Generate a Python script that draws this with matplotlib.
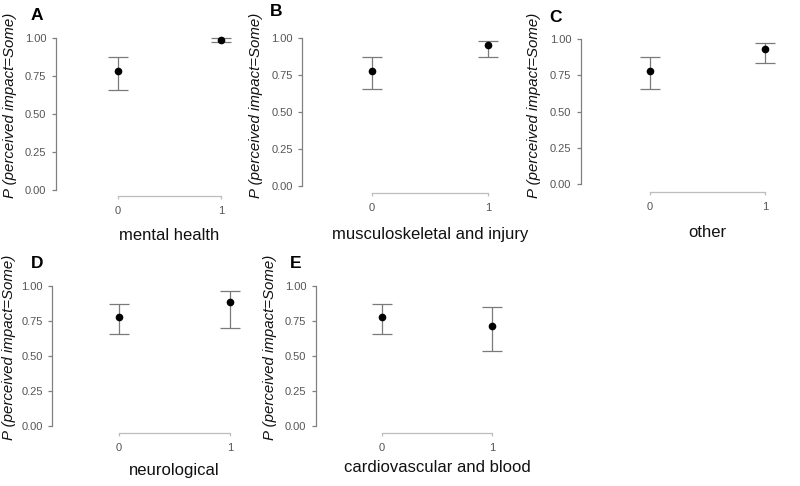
import matplotlib.pyplot as plt

plt.rcParams['font.family'] = ['Liberation Sans', 'DejaVu Sans']

letters = ['A', 'B', 'C', 'D', 'E']
conditions = ['mental health', 'musculoskeletal and injury', 'other',
              'neurological', 'cardiovascular and blood']
groups = [0, 1]
estimates = [[0.78, 0.99], [0.78, 0.95], [0.78, 0.933], [0.78, 0.885], [0.78, 0.716]]
lower = [[0.655, 0.975], [0.655, 0.87], [0.655, 0.835], [0.655, 0.697], [0.655, 0.539]]
upper = [[0.873, 0.999], [0.873, 0.98], [0.873, 0.975], [0.873, 0.964], [0.873, 0.85]]
yticks = [0.0, 0.25, 0.5, 0.75, 1.0]
ytick_labels = ['0.00', '0.25', '0.50', '0.75', '1.00']

W, H = 800, 486
# pixel layout of each panel: x of group 0, px per unit, y of 1.00, y of 0.00, y of x axis
layout = [
    (118, 103, 38, 190, 196),
    (372, 116, 38, 186, 193),
    (650, 115, 39, 184, 192),
    (119, 111, 286, 426, 433),
    (382, 110, 286, 426, 433),
]
# pixel positions of texts: panel letter (x, y), y label x/y centre, x label y
letter_pos = [(37, 15), (276, 12), (555, 17), (37, 263), (296, 263)]
ylabel_x = [10, 256, 534, 9, 270]
ylabel_y = [105, 105, 105, 347, 347]
xlabel_y = [235, 235, 232, 470, 467]

fig = plt.figure(figsize=(W / 100, H / 100), dpi=100)

for i, (x0, unit, ytop, ybot, xsp) in enumerate(layout):
    left = x0 - 0.6 * unit
    right = x0 + 1.25 * unit
    aw = right - left
    ah = ybot - ytop
    ax = fig.add_axes([left / W, 1 - ybot / H, aw / W, ah / H])
    ax.set_xlim(-0.6, 1.25)
    ax.set_ylim(0, 1)

    est = estimates[i]
    err = [[e - l for e, l in zip(est, lower[i])], [u - e for e, u in zip(est, upper[i])]]
    ax.errorbar(groups, est, yerr=err, fmt='o', color='black', markersize=4.5,
                ecolor='#7a7a7a', elinewidth=0.9, capsize=7.5, capthick=0.9,
                clip_on=False, zorder=3)

    for s in ['top', 'right']:
        ax.spines[s].set_visible(False)
    ax.spines['left'].set_bounds(0, 1)
    ax.spines['left'].set_color('#808080')
    ax.spines['left'].set_linewidth(0.9)
    ax.spines['bottom'].set_bounds(0, 1)
    ax.spines['bottom'].set_color('#bdbdbd')
    ax.spines['bottom'].set_linewidth(0.9)
    ax.spines['bottom'].set_position(('outward', (xsp - ybot) * 0.72))

    ax.set_yticks(yticks)
    ax.set_yticklabels(ytick_labels)
    ax.set_xticks(groups)
    ax.tick_params(axis='y', length=3, width=0.9, color='#808080', labelsize=8,
                   labelcolor='#555555', pad=4)
    ax.tick_params(axis='x', length=2, width=0.9, color='#bdbdbd', labelsize=8,
                   labelcolor='#555555', pad=5)

    ax.set_xlabel(conditions[i], fontsize=12, color='#111111')
    ax.xaxis.label.set_va('center')
    ax.xaxis.set_label_coords((x0 + 0.5 * unit - left) / aw, (ybot - xlabel_y[i]) / ah)
    ax.set_ylabel('P (perceived impact=Some)', fontsize=10.8, style='italic', color='#111111')
    ax.yaxis.label.set_va('center')
    ax.yaxis.set_label_coords((ylabel_x[i] - left) / aw, (ybot - ylabel_y[i]) / ah)

    lx, ly = letter_pos[i]
    fig.text(lx / W, 1 - ly / H, letters[i], fontsize=12.5, fontweight='bold',
             ha='center', va='center')

plt.savefig('out.png', dpi=100)
